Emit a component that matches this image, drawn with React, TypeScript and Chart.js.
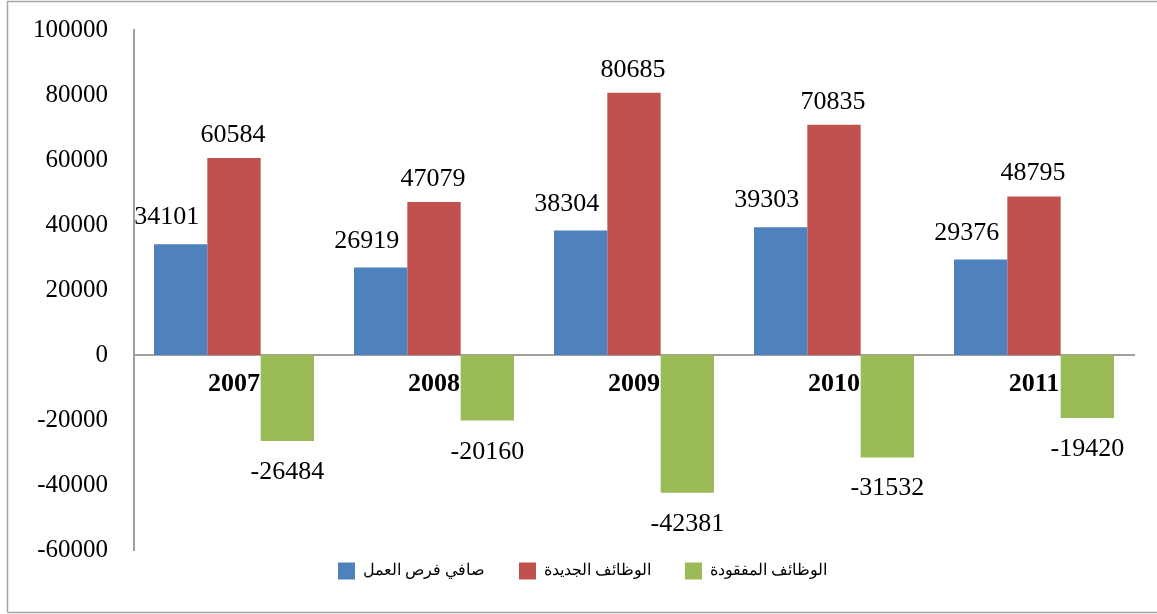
import React, { useEffect, useRef } from "react";
import { Chart, registerables } from "chart.js";

Chart.register(...registerables);

const years = ["2007", "2008", "2009", "2010", "2011"];
const netJobs = [34101, 26919, 38304, 39303, 29376];
const newJobs = [60584, 47079, 80685, 70835, 48795];
const lostJobs = [-26484, -20160, -42381, -31532, -19420];
const seriesNames = ["صافي فرص العمل", "الوظائف الجديدة", "الوظائف المفقودة"];
const seriesColors = ["#4F81BD", "#C0504D", "#9BBB59"];
const yMin = -60000;
const yMax = 100000;
const yStep = 20000;

const SERIF = "'Liberation Serif', 'Times New Roman', 'DejaVu Serif', serif";

const framePlugin = {
  id: "frame",
  beforeDraw(chart: any) {
    const ctx = chart.ctx;
    ctx.save();
    ctx.fillStyle = "#ffffff";
    ctx.fillRect(0, 0, chart.width, chart.height);
    ctx.strokeStyle = "#a6a6a6";
    ctx.lineWidth = 1.5;
    ctx.beginPath();
    ctx.moveTo(7.5, chart.height - 1.5);
    ctx.lineTo(7.5, 1.5);
    ctx.lineTo(chart.width + 5, 1.5);
    ctx.moveTo(7.5, chart.height - 1.5);
    ctx.lineTo(chart.width + 5, chart.height - 1.5);
    ctx.stroke();
    ctx.restore();
  },
};

const valueLabelPlugin = {
  id: "valueLabels",
  afterDatasetsDraw(chart: any) {
    const ctx = chart.ctx;
    ctx.save();
    ctx.font = `26px ${SERIF}`;
    ctx.fillStyle = "#000000";
    ctx.textAlign = "center";
    ctx.textBaseline = "alphabetic";
    chart.data.datasets.forEach((ds: any, di: number) => {
      const meta = chart.getDatasetMeta(di);
      meta.data.forEach((bar: any, i: number) => {
        const text = String(ds.data[i]);
        let x = bar.x;
        let y = bar.y;
        if (di === 0) {
          x -= 14;
          y -= 20;
        } else if (di === 1) {
          x -= 1;
          y -= 16;
        } else {
          y += 38;
        }
        ctx.fillText(text, x, y);
      });
    });
    ctx.restore();
  },
};

const legendPlugin = {
  id: "customLegend",
  afterDraw(chart: any) {
    const ctx = chart.ctx;
    ctx.save();
    ctx.font = `16px ${SERIF}`;
    ctx.textBaseline = "middle";
    ctx.textAlign = "left";
    const box = 17;
    const gapBoxText = 8;
    const gapItem = 34;
    const items = chart.data.datasets.map((ds: any) => ({
      label: ds.label,
      color: ds.backgroundColor,
      w: box + gapBoxText + ctx.measureText(ds.label).width,
    }));
    const total =
      items.reduce((s: number, it: any) => s + it.w, 0) + gapItem * (items.length - 1);
    let x = chart.width / 2 + 4 - total / 2;
    const cy = 571;
    items.forEach((it: any) => {
      ctx.fillStyle = it.color;
      ctx.fillRect(x, cy - box / 2, box, box);
      ctx.fillStyle = "#000000";
      ctx.fillText(it.label, x + box + gapBoxText, cy);
      x += it.w + gapItem;
    });
    ctx.restore();
  },
};

export default function App() {
  const canvasRef = useRef<HTMLCanvasElement | null>(null);

  useEffect(() => {
    if (!canvasRef.current) return;
    const chart = new Chart(canvasRef.current, {
      type: "bar",
      data: {
        labels: years,
        datasets: [
          { label: seriesNames[0], data: netJobs, backgroundColor: seriesColors[0] },
          { label: seriesNames[1], data: newJobs, backgroundColor: seriesColors[1] },
          { label: seriesNames[2], data: lostJobs, backgroundColor: seriesColors[2] },
        ],
      },
      plugins: [framePlugin, valueLabelPlugin, legendPlugin],
      options: {
        responsive: false,
        animation: false,
        events: [],
        devicePixelRatio: 1,
        layout: { padding: { left: 0, top: 30, right: 23, bottom: 64 } },
        datasets: {
          bar: { categoryPercentage: 0.8, barPercentage: 1.0 },
        },
        plugins: {
          legend: { display: false },
          tooltip: { enabled: false },
        },
        scales: {
          x: {
            position: { y: 0 } as any,
            grid: { display: false, drawTicks: false },
            border: { display: true, color: "#a0a0a0", width: 2 },
            ticks: {
              font: { family: SERIF, size: 26, weight: "bold" },
              color: "#000000",
              padding: 14,
              maxRotation: 0,
            },
            afterFit: (s: any) => {
              s.height = 0;
              s.paddingTop = 0;
              s.paddingBottom = 0;
            },
          },
          y: {
            min: yMin,
            max: yMax,
            grid: { display: false, drawTicks: false },
            border: { display: true, color: "#a0a0a0", width: 2 },
            ticks: {
              stepSize: yStep,
              font: { family: SERIF, size: 25 },
              color: "#000000",
              padding: 26,
              callback: (v: any) => String(v),
            },
            afterFit: (s: any) => {
              s.width = 134;
              s.paddingTop = 0;
              s.paddingBottom = 0;
            },
          },
        },
      },
    });
    return () => chart.destroy();
  }, []);

  return (
    <div style={{ position: "absolute", left: 0, top: 0, width: 1157, height: 614 }}>
      <canvas ref={canvasRef} width={1157} height={614} style={{ width: 1157, height: 614, display: "block" }} />
    </div>
  );
}
